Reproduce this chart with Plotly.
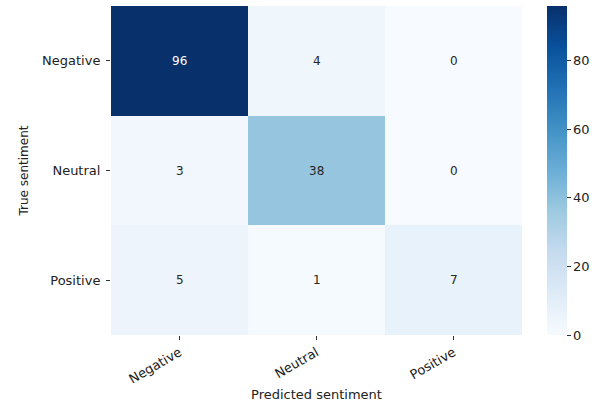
import plotly.graph_objects as go

true_labels = ["Negative", "Neutral", "Positive"]
pred_labels = ["Negative", "Neutral", "Positive"]
counts = [
    [96, 4, 0],
    [3, 38, 0],
    [5, 1, 7],
]
cbar_ticks = [0, 20, 40, 60, 80]

blues = [
    [0.0, "#f7fbff"], [0.125, "#deebf7"], [0.25, "#c6dbef"], [0.375, "#9ecae1"],
    [0.5, "#6baed6"], [0.625, "#4292c6"], [0.75, "#2171b5"], [0.875, "#08519c"],
    [1.0, "#08306b"],
]

font = "DejaVu Sans"
vmax = max(max(r) for r in counts)

fig = go.Figure(go.Heatmap(
    z=counts, x=pred_labels, y=true_labels,
    colorscale=blues, zmin=0, zmax=vmax, xgap=0, ygap=0,
    hoverinfo="skip",
    colorbar=dict(
        x=1.061, xanchor="left", xpad=0, y=0.5, yanchor="middle",
        len=1.0, lenmode="fraction", ypad=0, thickness=20,
        outlinewidth=0, tickvals=cbar_ticks, ticks="outside", ticklen=4,
        tickcolor="#333", tickfont=dict(family=font, size=13, color="#222"),
    ),
))

annotations = []
for i, row in enumerate(counts):
    for j, v in enumerate(row):
        annotations.append(dict(
            x=pred_labels[j], y=true_labels[i], text=str(v), showarrow=False,
            font=dict(family=font, size=12,
                      color="white" if v > vmax * 0.5 else "#262626"),
        ))

fig.update_layout(
    width=606, height=407,
    margin=dict(l=111, r=84, t=6, b=72),
    paper_bgcolor="white", plot_bgcolor="white",
    annotations=annotations,
    font=dict(family=font, size=13, color="#222"),
    xaxis=dict(
        title=dict(text="Predicted sentiment", font=dict(family=font, size=13), standoff=4),
        tickangle=-30, ticks="outside", ticklen=4, tickcolor="#333",
        tickfont=dict(family=font, size=13, color="#222"), showgrid=False, zeroline=False,
    ),
    yaxis=dict(
        title=dict(text="True sentiment", font=dict(family=font, size=12), standoff=10),
        autorange="reversed", ticks="outside", ticklen=4, tickcolor="#333",
        ticklabelstandoff=3,
        tickfont=dict(family=font, size=13, color="#222"), showgrid=False, zeroline=False,
    ),
)

fig.write_html("out.html")
